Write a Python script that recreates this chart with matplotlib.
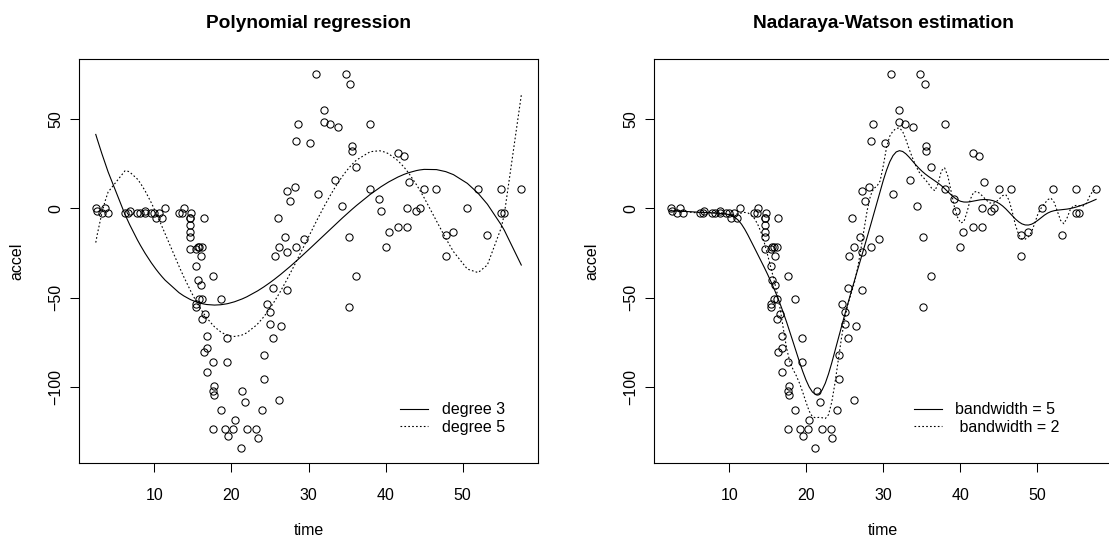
import numpy as np
import matplotlib
matplotlib.use('Agg')
import matplotlib.pyplot as plt

# mcycle data: head acceleration vs time after impact
times = [2.4, 2.6, 3.2, 3.6, 4.0, 6.2, 6.6, 6.8, 7.8, 8.2,
         8.8, 8.8, 9.6, 10.0, 10.2, 10.6, 11.0, 11.4, 13.2, 13.6,
         13.8, 14.6, 14.6, 14.6, 14.6, 14.6, 14.6, 14.8, 15.4, 15.4,
         15.4, 15.4, 15.6, 15.6, 15.8, 15.8, 16.0, 16.0, 16.2, 16.2,
         16.2, 16.4, 16.4, 16.6, 16.8, 16.8, 16.8, 17.6, 17.6, 17.6,
         17.6, 17.8, 17.8, 18.6, 18.6, 19.2, 19.4, 19.4, 19.6, 20.2,
         20.4, 21.2, 21.4, 21.8, 22.0, 23.2, 23.4, 24.0, 24.2, 24.2,
         24.6, 25.0, 25.0, 25.4, 25.4, 25.6, 26.0, 26.2, 26.2, 26.4,
         27.0, 27.2, 27.2, 27.2, 27.6, 28.2, 28.4, 28.4, 28.6, 29.4,
         30.2, 31.0, 31.2, 32.0, 32.0, 32.8, 33.4, 33.8, 34.4, 34.8,
         35.2, 35.2, 35.4, 35.6, 35.6, 36.2, 36.2, 38.0, 38.0, 39.2,
         39.4, 40.0, 40.4, 41.6, 41.6, 42.4, 42.8, 42.8, 43.0, 44.0,
         44.4, 45.0, 46.6, 47.8, 47.8, 48.8, 50.6, 52.0, 53.2, 55.0,
         55.0, 55.4, 57.6]
accel = [0.0, -1.3, -2.7, 0.0, -2.7, -2.7, -2.7, -1.3, -2.7, -2.7,
         -1.3, -2.7, -2.7, -2.7, -5.4, -2.7, -5.4, 0.0, -2.7, -2.7,
         0.0, -13.3, -5.4, -5.4, -9.3, -16.0, -22.8, -2.7, -22.8, -32.1,
         -53.5, -54.9, -40.2, -21.5, -21.5, -50.8, -42.9, -26.8, -21.5, -50.8,
         -61.7, -5.4, -80.4, -59.0, -71.0, -91.1, -77.7, -37.5, -85.6, -123.1,
         -101.9, -99.1, -104.4, -112.5, -50.8, -123.1, -85.6, -72.3, -127.2, -123.1,
         -117.9, -134.0, -101.9, -108.4, -123.1, -123.1, -128.5, -112.5, -95.1, -81.8,
         -53.5, -64.4, -57.6, -72.3, -44.3, -26.8, -5.4, -107.1, -21.5, -65.6,
         -16.0, -45.6, -24.2, 9.5, 4.0, 12.0, -21.5, 37.5, 46.9, -17.4,
         36.2, 75.0, 8.1, 54.9, 48.2, 46.9, 16.0, 45.6, 1.3, 75.0,
         -16.0, -54.9, 69.6, 34.8, 32.1, -37.5, 22.8, 46.9, 10.7, 5.4,
         -1.3, -21.5, -13.3, 30.8, -10.7, 29.4, 0.0, -10.7, 14.7, -1.3,
         0.0, 10.7, 10.7, -26.8, -14.7, -13.3, 0.0, 10.7, -14.7, -2.7,
         10.7, -2.7, 10.7]

poly_degrees = [3, 5]
poly_labels = ['degree 3', 'degree 5']
bandwidths = [5, 2]
nw_labels = ['bandwidth = 5', ' bandwidth = 2']
x_ticks = [10, 20, 30, 40, 50]
y_ticks = [-100, -50, 0, 50]

plt.rcParams['font.family'] = ['Liberation Sans', 'DejaVu Sans']
plt.rcParams['font.size'] = 11.5

t = np.array(times)
a = np.array(accel)

# R's ksmooth with normal kernel (quartiles at +/- 0.25*bandwidth)
def ksmooth(x, y, bandwidth):
	xp = np.linspace(x.min(), x.max(), max(100, len(x)))
	bw = 0.3706506*bandwidth
	cutoff = 4*bw
	yp = np.empty(len(xp))
	for j, x0 in enumerate(xp):
		d = np.abs(x - x0)
		m = d <= cutoff
		w = np.exp(-0.5*(d[m]/bw)**2)
		yp[j] = np.sum(w*y[m])/np.sum(w)
	return xp, yp

# R default axis range: data range + 4%
def r_lim(v):
	lo, hi = min(v), max(v)
	pad = 0.04*(hi - lo)
	return lo - pad, hi + pad

line_styles = ['-', (0, (1.5, 2.0))]

fig = plt.figure(figsize=(11.09, 5.38), dpi=100)
ax1 = fig.add_axes([0.0710, 0.1388, 0.4144, 0.7515])
ax2 = fig.add_axes([0.5893, 0.1388, 0.4144, 0.7515])

for ax in (ax1, ax2):
	ax.plot(t, a, 'o', ms=5.2, mfc='none', mec='black', mew=0.75, zorder=3)

# polynomial regression
for deg, lab, ls in zip(poly_degrees, poly_labels, line_styles):
	fit = np.polynomial.Polynomial.fit(t, a, deg)
	ax1.plot(t, fit(t), color='black', lw=0.8, linestyle=ls, label=lab)

# Nadaraya-Watson
for bwd, lab, ls in zip(bandwidths, nw_labels, line_styles):
	xs, ys = ksmooth(t, a, bwd)
	ax2.plot(xs, ys, color='black', lw=0.8, linestyle=ls, label=lab)

ax1.set_title('Polynomial regression', fontsize=13.8, fontweight='bold', pad=22)
ax2.set_title('Nadaraya-Watson estimation', fontsize=13.8, fontweight='bold', pad=22)

for ax in (ax1, ax2):
	ax.set_xlim(r_lim(times))
	ax.set_ylim(r_lim(accel))
	ax.set_xticks(x_ticks)
	ax.set_yticks(y_ticks)
	ax.tick_params(direction='out', length=6.5, width=0.75)
	ax.tick_params(axis='x', pad=11)
	ax.tick_params(axis='y', pad=4.5)
	for lbl in ax.get_yticklabels():
		lbl.set_rotation(90)
		lbl.set_va('center')
	for sp in ax.spines.values():
		sp.set_linewidth(0.8)
	ax.set_xlabel('time', labelpad=14.5)
	ax.set_ylabel('accel', labelpad=17.5)

leg_kw = dict(frameon=False, borderpad=0, handlelength=1.75, handletextpad=0.85,
              labelspacing=0.15, loc='upper left')
ax1.legend(bbox_to_anchor=(0.682, 0.171), **leg_kw)
ax2.legend(bbox_to_anchor=(0.549, 0.171), **leg_kw)

fig.savefig('out.png', dpi=100)
